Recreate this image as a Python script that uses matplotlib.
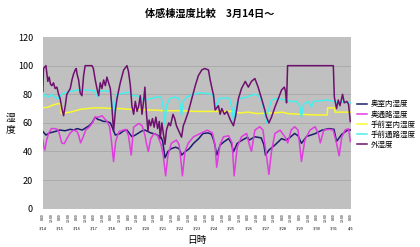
import numpy as np
import matplotlib
matplotlib.use("Agg")
import matplotlib.pyplot as plt

plt.rcParams['font.family'] = ['Noto Sans CJK JP', 'DejaVu Sans']

# days since 3/14 0:00 and humidity (%) for each series
navy_days = [0.0, 0.18, 0.4, 0.72, 1.0, 1.3, 1.6, 1.8, 2.0, 2.3, 2.5, 2.7, 2.87, 3.06, 3.2, 3.35,
             3.55, 3.74, 3.94, 4.05, 4.23, 4.5, 4.72, 4.91, 5.1, 5.2, 5.4, 5.6, 5.8, 5.96, 6.3, 6.6,
             6.9, 7.0, 7.13, 7.3, 7.5, 7.75, 7.95, 8.11, 8.3, 8.55, 8.8, 9.1, 9.35, 9.65, 9.85, 10.0,
             10.16, 10.35, 10.6, 10.85, 11.0, 11.13, 11.35, 11.65, 11.95, 12.05, 12.38, 12.75, 12.9,
             13.0, 13.2, 13.55, 13.94, 14.15, 14.35, 14.7, 14.9, 15.1, 15.4, 15.9, 16.3, 16.7, 17.0,
             17.15, 17.45, 17.8, 18.0]
navy_vals = [54, 51.5, 53, 54, 55, 54.5, 55.5, 55, 56, 55, 56.5, 58, 60, 64, 62.5, 62,
             61, 61, 60, 57, 51.5, 52.5, 54.5, 55, 52, 50.3, 51.5, 53, 54.5, 55, 53, 52,
             50, 47, 35.5, 40, 42, 43, 42, 37.5, 39.8, 42, 45.7, 49, 52.6, 53, 52, 47,
             37.5, 44.5, 47, 49, 46, 39.8, 45.7, 48, 50, 48, 50.3, 49.5, 45,
             37.5, 41, 44.5, 49, 48, 49, 52.6, 51, 45.7, 50.5, 52.5, 54.9, 56, 55.5,
             47, 52, 55, 55]

mag_days = [0.0, 0.06, 0.12, 0.22, 0.35, 0.5, 0.7, 0.85, 0.95, 1.1, 1.25, 1.45, 1.6, 1.8, 2.0,
            2.1, 2.2, 2.35, 2.5, 2.7, 2.9, 3.05, 3.25, 3.45, 3.6, 3.75, 3.9, 4.0, 4.13, 4.25, 4.45,
            4.7, 4.85, 5.0, 5.16, 5.3, 5.6, 5.8, 5.96, 6.06, 6.16, 6.3, 6.5, 6.7, 6.9, 7.03, 7.17,
            7.3, 7.5, 7.8, 7.95, 8.05, 8.15, 8.3, 8.5, 8.8, 9.2, 9.6, 9.9, 10.05, 10.15, 10.35,
            10.55, 10.85, 11.05, 11.17, 11.35, 11.6, 11.9, 12.05, 12.18, 12.38, 12.67, 12.85, 13.05,
            13.2, 13.35, 13.55, 13.85, 14.15, 14.3, 14.5, 14.7, 14.9, 15.1, 15.3, 15.6, 15.9, 16.1,
            16.2, 16.4, 16.7, 16.95, 17.15, 17.3, 17.45, 17.65, 17.85, 17.95]
mag_vals = [48, 43, 41, 48, 53, 56, 56, 55.5, 53, 46, 45.5, 50, 53, 55, 54,
            51, 46, 50, 55, 57, 60, 64, 64, 65, 63, 61, 57, 48, 33, 47, 54,
            55, 55.5, 51, 37.5, 57, 59.6, 58, 51.5, 45, 40, 49, 52.6, 51, 45, 37.5, 23,
            37, 45.7, 48, 45, 35, 23, 40, 46, 50.3, 52.6, 54.9, 53, 45, 29, 45,
            50.3, 51, 46, 23, 43, 50.3, 52.6, 45, 40, 55, 57.3, 55, 37.5,
            24, 40, 52.6, 54.9, 50, 46, 55, 57.3, 55, 33, 48, 55, 57.3, 52,
            46, 54.9, 55.5, 55, 45.7, 37, 50, 55, 56, 47]

yel_days = [0.0, 0.3, 0.6, 0.9, 1.05, 1.08, 1.3, 1.6, 1.9, 2.2, 2.6, 3.0, 3.5, 4.0, 4.5, 5.0,
            5.5, 6.0, 6.5, 7.0, 8.0, 9.0, 10.0, 11.0, 11.5, 12.0, 12.5, 13.5, 14.0, 14.3, 15.0,
            16.0, 16.6, 16.63, 17.03, 17.06, 18.0]
yel_vals = [70.5, 71, 72.5, 73.5, 73, 66.5, 67, 67.5, 68.5, 69.5, 70, 70.5, 70.5, 70, 70, 69.5,
            69.5, 69, 69, 68.5, 68.5, 68, 68, 68, 67, 67.5, 66.5, 67, 67.5, 66.5, 66,
            65.5, 65.5, 70.5, 70.5, 67.5, 67.5]

cyan_days = [0.0, 0.1, 0.2, 0.35, 0.5, 0.7, 0.9, 1.1, 1.3, 1.6, 2.0, 2.5, 3.0, 3.2, 3.3, 3.6,
             3.95, 4.05, 4.12, 4.2, 4.3, 4.6, 5.0, 5.2, 5.5, 5.8, 6.0, 6.3, 6.6, 6.9, 7.05, 7.13,
             7.22, 7.4, 7.7, 7.95, 8.1, 8.2, 8.4, 8.8, 9.2, 9.6, 9.9, 10.05, 10.15, 10.3, 10.6,
             10.9, 11.05, 11.13, 11.25, 11.5, 11.9, 12.1, 12.4, 12.7, 12.95, 13.05, 13.15, 13.35,
             13.7, 14.2, 14.5, 14.8, 15.0, 15.1, 15.22, 15.5, 15.68, 15.8, 16.2, 16.6, 17.0, 17.3,
             17.6, 17.95]
cyan_vals = [77, 80, 79, 78, 80, 78, 77, 80, 81, 82, 83, 83, 82.5, 78, 82, 82.5,
             82, 72, 63, 73, 80, 80.5, 81.5, 79, 79, 77, 76, 77, 78, 78, 70, 59,
             72, 77, 78, 77, 65, 75, 78, 80, 81, 80.5, 80, 76, 72, 77, 77.5,
             77, 70, 61, 72, 77, 78, 79, 80, 78, 68, 60, 68, 76,
             77, 76, 75, 75, 72, 64, 73, 75, 71, 75, 75.5, 76, 75, 74,
             75, 74]

out_days = [0.0, 0.04, 0.18, 0.29, 0.37, 0.45, 0.53, 0.62, 0.72, 0.82, 0.92, 1.01, 1.11, 1.21,
            1.31, 1.4, 1.5, 1.6, 1.7, 1.79, 1.89, 1.95, 2.0, 2.09, 2.18, 2.28, 2.38, 2.47, 2.87,
            2.95, 3.06, 3.16, 3.26, 3.35, 3.45, 3.55, 3.65, 3.74, 3.84, 3.94, 4.04, 4.13, 4.23,
            4.33, 4.52, 4.72, 4.91, 5.0, 5.11, 5.2, 5.3, 5.4, 5.5, 5.6, 5.69, 5.79, 5.89, 5.96,
            6.0, 6.06, 6.14, 6.2, 6.3, 6.4, 6.5, 6.6, 6.7, 6.8, 6.85, 6.95, 7.03, 7.13, 7.22,
            7.35, 7.45, 7.6, 7.7, 7.8, 7.95, 8.1, 8.2, 8.3, 8.5, 8.7, 8.9, 9.08, 9.28, 9.45,
            9.67, 9.77, 9.97, 10.06, 10.25, 10.35, 10.45, 10.6, 10.75, 10.95, 11.13, 11.26,
            11.42, 11.6, 11.82, 12.0, 12.18, 12.38, 12.57, 12.77, 12.96, 13.06, 13.2, 13.35,
            13.55, 13.75, 13.94, 14.1, 14.17, 14.23, 14.29, 16.96, 17.02, 17.15, 17.25, 17.35,
            17.5, 17.6, 17.75, 17.85, 17.95]
out_vals = [82, 98, 100, 89, 92, 87, 86, 88, 84, 85, 80, 77, 70, 65,
            72, 80, 82, 84, 90, 94, 97, 98, 94, 90, 81, 79, 93, 100, 100,
            98, 90, 84, 79, 88, 84, 90, 86, 92, 88, 84, 70, 54, 68,
            77, 88, 97, 100, 96, 86, 72, 66, 75, 68, 72, 79, 66, 76, 85,
            75, 65, 54, 62, 58, 63, 57, 64, 56, 61, 49, 60, 53, 45, 55,
            60, 58, 66, 63, 58, 54, 50, 58, 61, 68, 77, 86, 93, 97, 98,
            97, 90, 79, 69, 72, 66, 70, 66, 68, 62, 58, 65,
            77, 84, 89, 85, 89, 91, 85, 77, 69, 64, 60, 64,
            71, 77, 83, 85, 82, 74, 100, 100, 78, 70, 76, 72,
            80, 74, 75, 73, 61]

labels = ['奥室内湿度', '奥通路湿度', '手前室内湿度', '手前通路湿度', '外湿度']
colors = ['#1c1c6e', '#e03ce0', '#f8f830', '#48eeee', '#6e106e']
date_labels = ['3/14', '3/15', '3/16', '3/17', '3/18', '3/19', '3/20', '3/21', '3/22', '3/23',
               '3/24', '3/25', '3/26', '3/27', '3/28', '3/29', '3/30', '3/31', '4/1']

fig = plt.figure(figsize=(4.2, 2.47), dpi=100)
ax = fig.add_axes([0.102, 0.155, 0.734, 0.695])
ax.set_facecolor('#c0c0c0')

series = [(navy_days, navy_vals), (mag_days, mag_vals), (yel_days, yel_vals),
          (cyan_days, cyan_vals), (out_days, out_vals)]
for (d, v), lab, col in zip(series, labels, colors):
    ax.plot(d, v, color=col, lw=1.1, label=lab)

ax.set_xlim(0, 18)
ax.set_ylim(0, 120)
ax.set_yticks(np.arange(0, 121, 20))
ax.tick_params(axis='y', length=0, pad=7, labelsize=6.5)
for y in range(20, 120, 20):
    ax.axhline(y, color='#a8a8a8', lw=0.6, zorder=0)
for s in ax.spines.values():
    s.set_visible(False)

half = np.arange(0, 18.01, 0.5)
ax.set_xticks(half)
ax.set_xticklabels(['0:00' if h % 1 == 0 else '12:00' for h in half], rotation=90, fontsize=2.6)
ax.tick_params(axis='x', length=0, pad=3)
for i, lab in enumerate(date_labels):
    ax.text(i, -0.113, lab, transform=ax.get_xaxis_transform(), fontsize=2.8,
            ha='center', va='center')

fig.text(0.499, 0.944, '体感棟湿度比較　3月14日～', ha='center', va='center',
         fontsize=7.3, fontweight='bold')
fig.text(0.024, 0.5, '湿\n度', ha='center', va='center', fontsize=7, linespacing=1.1)
fig.text(0.469, 0.028, '日時', ha='center', va='center', fontsize=7)

fig.legend(loc='upper left', bbox_to_anchor=(0.838, 0.615), frameon=False, fontsize=5.4,
           handlelength=1.35, handletextpad=0.4, labelspacing=0.28, borderpad=0.2)

fig.savefig('out.png', dpi=100)
